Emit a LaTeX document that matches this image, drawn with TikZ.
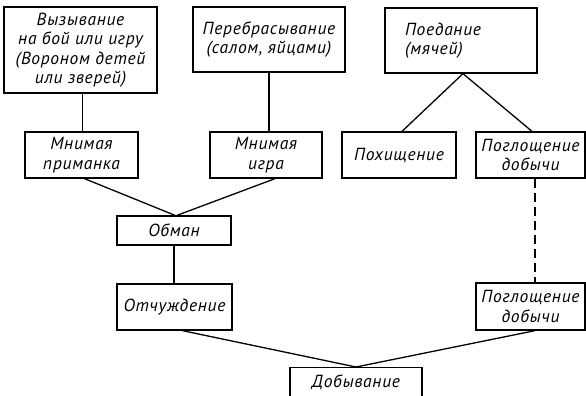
\documentclass[tikz,border=0pt]{standalone}
\usepackage{fontspec}
\newfontfamily\lbl{PT Sans}[LetterSpace=4]
\begin{document}
\begin{tikzpicture}[x=1pt,y=-1pt,
  box/.style={draw,line width=1.3pt,inner sep=0pt,align=center,
    font=\lbl\itshape\fontsize{17.5}{19.5}\selectfont},
  conn/.style={line width=1.3pt},
  dconn/.style={line width=1.3pt,dash pattern=on 9pt off 5pt}]
\useasboundingbox (0,0) rectangle (586,396);
\clip (0,0) rectangle (586,396);
\node[box,minimum width=153pt,minimum height=86pt] (A) at (80.5,50) {Вызывание\\на бой или игру\\(Вороном детей\\или зверей)};
\node[box,minimum width=152pt,minimum height=65pt] (B) at (269,39.5) {Перебрасывание\\(салом, яйцами)};
\node[box,minimum width=152pt,minimum height=65pt,align=left,text width=136pt] (C) at (461,40.5) {\hspace*{12pt}Поедание\\\hspace*{12pt}(мячей)};
\node[box,minimum width=113pt,minimum height=46pt] (mp) at (81.5,155) {Мнимая\\приманка};
\node[box,minimum width=112pt,minimum height=46pt] (mi) at (266,155) {Мнимая\\игра};
\node[box,minimum width=114pt,minimum height=46pt] (pokh) at (399,155) {Похищение};
\node[box,minimum width=109pt,minimum height=46pt] (pogl) at (530.5,155) {Поглощение\\добычи};
\node[box,minimum width=114pt,minimum height=29pt] (obman) at (174,230.5) {Обман};
\node[box,minimum width=115pt,minimum height=46pt] (otch) at (174.5,307) {Отчуждение};
\node[box,minimum width=109pt,minimum height=47pt] (pogl2) at (530.5,306.5) {Поглощение\\добычи};
\node[box,minimum width=132pt,minimum height=29pt,anchor=north] (dob) at (356,367) {Добывание};
\draw[conn] ([xshift=1pt]mp.north) -- ([xshift=1pt]mp.north |- A.south);
\draw[conn] ([xshift=3pt]mi.north) -- ([xshift=3pt]mi.north |- B.south);
\draw[conn] ([xshift=2pt]C.south) -- ([xshift=3pt]pokh.north);
\draw[conn] ([xshift=2pt]C.south) -- ([xshift=1.5pt]pogl.north);
\draw[conn] ([xshift=3pt]mp.south) -- ([xshift=1pt]obman.north);
\draw[conn] ([xshift=9pt]mi.south) -- ([xshift=3pt]obman.north);
\draw[conn] (obman.south) -- (obman.south |- otch.north);
\draw[dconn] ([xshift=4.5pt]pogl.south) -- ([xshift=4.5pt]pogl2.north);
\draw[conn] ([xshift=8pt]otch.south) -- (dob.north);
\draw[conn] ([xshift=4.5pt]pogl2.south) -- (dob.north);
\end{tikzpicture}
\end{document}
